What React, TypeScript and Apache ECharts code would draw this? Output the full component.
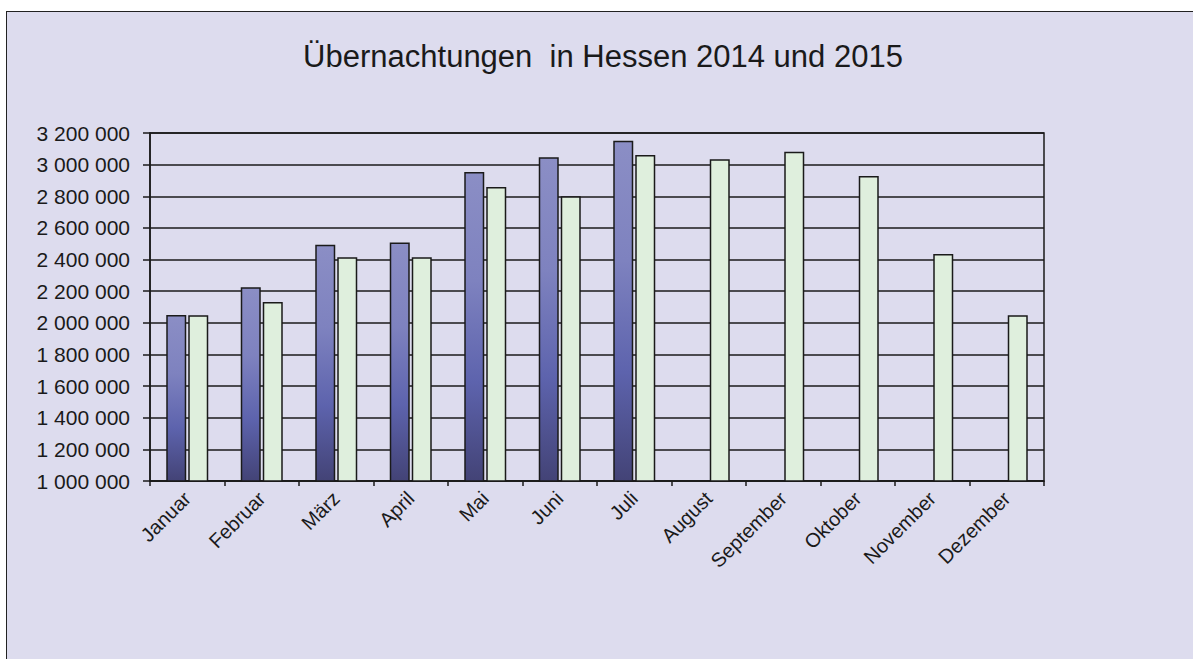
import React, { useEffect, useRef } from "react";
import * as echarts from "echarts";

const months = ["Januar", "Februar", "März", "April", "Mai", "Juni", "Juli", "August", "September", "Oktober", "November", "Dezember"];
const values2015 = [2050000, 2225000, 2494000, 2507000, 2953000, 3046000, 3151000, null, null, null, null, null];
const values2014 = [2048000, 2132000, 2414000, 2414000, 2859000, 2800000, 3061000, 3034000, 3082000, 2928000, 2435000, 2048000];
const yMin = 1000000;
const yMax = 3200000;
const yStep = 200000;
const titleText = "Übernachtungen  in Hessen 2014 und 2015";

const fmt = (v: number) => String(v).replace(/\B(?=(\d{3})+(?!\d))/g, " ");

export default function App() {
  const ref = useRef<HTMLDivElement>(null);
  useEffect(() => {
    if (!ref.current) return;
    const chart = echarts.init(ref.current, undefined, { renderer: "svg" });
    const font = "'Liberation Sans', Arial, Helvetica, sans-serif";
    chart.setOption({
      animation: false,
      backgroundColor: "transparent",
      title: {
        text: titleText,
        left: 603,
        top: 41,
        padding: 0,
        textAlign: "center",
        textStyle: { fontFamily: font, fontSize: 31, fontWeight: "normal", color: "#1a1a1a" },
      },
      grid: { left: 150, top: 133, right: 149, bottom: 178, show: true, borderColor: "#1a1a1a", borderWidth: 1.5, backgroundColor: "transparent" },
      xAxis: {
        type: "category",
        data: months,
        axisLine: { lineStyle: { color: "#1a1a1a", width: 1.5 } },
        axisTick: { show: true, length: 5, lineStyle: { color: "#1a1a1a", width: 1.5 } },
        axisLabel: { rotate: 45, margin: 14, fontFamily: font, fontSize: 20, color: "#1a1a1a", interval: 0 },
      },
      yAxis: {
        type: "value",
        min: yMin,
        max: yMax,
        interval: yStep,
        axisLine: { show: true, lineStyle: { color: "#1a1a1a", width: 1.5 } },
        axisTick: { show: true, length: 7, lineStyle: { color: "#1a1a1a", width: 1.5 } },
        axisLabel: { margin: 20, fontFamily: font, fontSize: 21, color: "#1a1a1a", formatter: fmt },
        splitLine: { show: true, lineStyle: { color: "#1a1a1a", width: 1.5 } },
      },
      series: [
        {
          name: "2015",
          type: "bar",
          data: values2015,
          barWidth: 20,
          barGap: "10%",
          itemStyle: {
            borderColor: "#1a1a1a",
            borderWidth: 1.5,
            color: new echarts.graphic.LinearGradient(0, 0, 0, 1, [
              { offset: 0, color: "#8B8EC5" },
              { offset: 0.35, color: "#7E82BF" },
              { offset: 0.68, color: "#5D63AD" },
              { offset: 1, color: "#434376" },
            ]),
          },
        },
        {
          name: "2014",
          type: "bar",
          data: values2014,
          barWidth: 20,
          itemStyle: { color: "#DFEFDD", borderColor: "#1a1a1a", borderWidth: 1.5 },
        },
      ],
    });
    return () => chart.dispose();
  }, []);
  return (
    <div style={{ position: "absolute", left: 0, top: 0, width: 1193, height: 659, background: "#ffffff", overflow: "hidden" }}>
      <div style={{ position: "absolute", left: 6, top: 11, width: 1300, height: 800, background: "#DDDCEE", border: "1.5px solid #222" }} />
      <div ref={ref} style={{ position: "absolute", left: 0, top: 0, width: 1193, height: 659 }} />
    </div>
  );
}
